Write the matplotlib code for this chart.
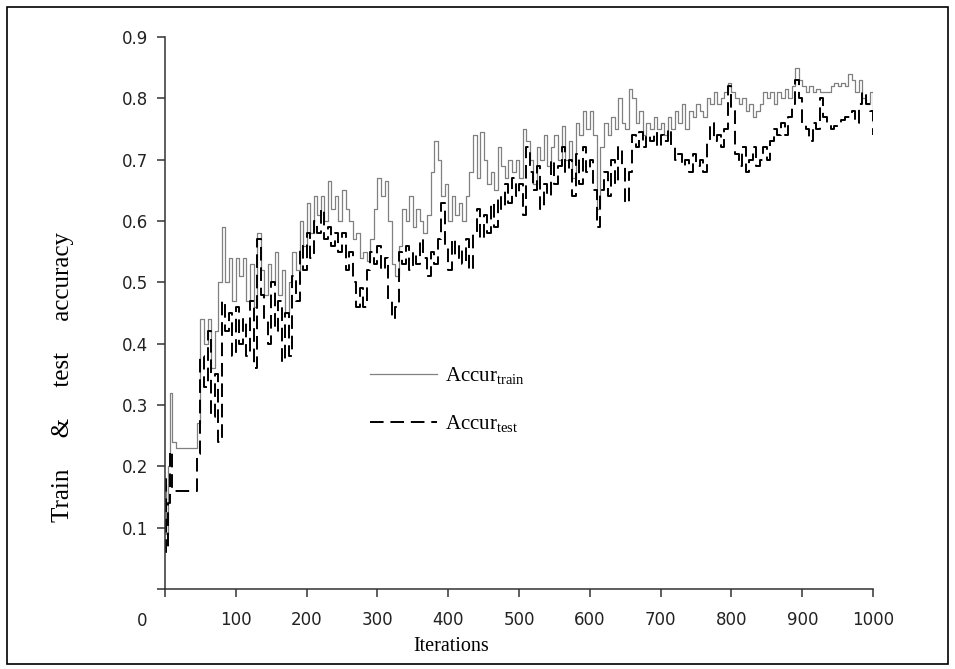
import matplotlib
matplotlib.use('Agg')
import matplotlib.pyplot as plt
from matplotlib.patches import Rectangle

plt.rcParams['font.family'] = 'Liberation Serif'
plt.rcParams['mathtext.fontset'] = 'custom'
plt.rcParams['mathtext.rm'] = 'Liberation Serif'

# Iteration index (a few extra points at the very start)
iterations = [0, 2, 4, 7, 10] + list(range(15, 1001, 5))

# Train accuracy
train_acc = [0.17, 0.09, 0.20, 0.32, 0.24,
             0.23, 0.23, 0.23, 0.23, 0.23, 0.23, 0.27, 0.44, 0.40, 0.44,
             0.36, 0.42, 0.50, 0.59, 0.50, 0.54, 0.47, 0.54, 0.51, 0.54,
             0.47, 0.53, 0.46, 0.58, 0.52, 0.48, 0.53, 0.50, 0.55, 0.48,
             0.52, 0.45, 0.50, 0.55, 0.52, 0.60, 0.56, 0.63, 0.58, 0.64,
             0.61, 0.64, 0.60, 0.665, 0.62, 0.64, 0.60, 0.65, 0.62, 0.60,
             0.57, 0.58, 0.54, 0.55, 0.535, 0.57, 0.62, 0.67, 0.64, 0.665,
             0.60, 0.53, 0.51, 0.56, 0.62, 0.60, 0.64, 0.59, 0.62, 0.60,
             0.58, 0.61, 0.68, 0.73, 0.70, 0.64, 0.66, 0.60, 0.64, 0.61,
             0.63, 0.60, 0.64, 0.68, 0.74, 0.67, 0.745, 0.70, 0.66, 0.68,
             0.65, 0.72, 0.69, 0.67, 0.70, 0.68, 0.70, 0.67, 0.75, 0.73,
             0.70, 0.66, 0.72, 0.70, 0.74, 0.69, 0.72, 0.74, 0.70, 0.755,
             0.70, 0.73, 0.67, 0.76, 0.74, 0.78, 0.75, 0.78, 0.74, 0.62,
             0.72, 0.76, 0.74, 0.77, 0.75, 0.80, 0.76, 0.75, 0.815, 0.80,
             0.76, 0.78, 0.74, 0.76, 0.75, 0.77, 0.75, 0.76, 0.74, 0.77,
             0.75, 0.78, 0.76, 0.79, 0.75, 0.78, 0.77, 0.79, 0.78, 0.77,
             0.80, 0.79, 0.81, 0.79, 0.80, 0.81, 0.825, 0.81, 0.80, 0.79,
             0.80, 0.78, 0.79, 0.77, 0.78, 0.79, 0.81, 0.80, 0.81, 0.79,
             0.81, 0.80, 0.815, 0.80, 0.82, 0.85, 0.83, 0.82, 0.81, 0.82,
             0.81, 0.815, 0.81, 0.81, 0.81, 0.82, 0.825, 0.82, 0.825, 0.82,
             0.84, 0.83, 0.81, 0.83, 0.80, 0.79, 0.81, 0.76]

# Test accuracy
test_acc = [0.18, 0.06, 0.14, 0.225, 0.16,
            0.16, 0.16, 0.16, 0.16, 0.16, 0.16, 0.22, 0.38, 0.33, 0.42,
            0.28, 0.35, 0.24, 0.47, 0.42, 0.45, 0.38, 0.46, 0.40, 0.44,
            0.38, 0.47, 0.36, 0.57, 0.48, 0.44, 0.40, 0.50, 0.42, 0.47,
            0.37, 0.45, 0.38, 0.51, 0.47, 0.56, 0.52, 0.58, 0.54, 0.60,
            0.58, 0.62, 0.57, 0.59, 0.56, 0.58, 0.55, 0.58, 0.52, 0.55,
            0.50, 0.46, 0.49, 0.46, 0.52, 0.55, 0.53, 0.56, 0.52, 0.54,
            0.47, 0.44, 0.46, 0.55, 0.53, 0.56, 0.52, 0.55, 0.53, 0.57,
            0.54, 0.51, 0.55, 0.53, 0.57, 0.63, 0.56, 0.52, 0.57, 0.54,
            0.56, 0.53, 0.57, 0.52, 0.58, 0.62, 0.57, 0.61, 0.58, 0.63,
            0.59, 0.64, 0.62, 0.66, 0.63, 0.67, 0.64, 0.66, 0.61, 0.72,
            0.68, 0.65, 0.69, 0.62, 0.66, 0.64, 0.70, 0.66, 0.69, 0.72,
            0.68, 0.70, 0.64, 0.71, 0.66, 0.72, 0.68, 0.70, 0.65, 0.59,
            0.65, 0.68, 0.64, 0.70, 0.66, 0.72, 0.69, 0.63, 0.68, 0.74,
            0.72, 0.745, 0.72, 0.74, 0.73, 0.745, 0.72, 0.74, 0.73, 0.75,
            0.72, 0.70, 0.71, 0.69, 0.70, 0.68, 0.71, 0.69, 0.70, 0.68,
            0.73, 0.76, 0.73, 0.74, 0.72, 0.75, 0.82, 0.78, 0.71, 0.69,
            0.72, 0.68, 0.70, 0.72, 0.69, 0.70, 0.72, 0.70, 0.73, 0.75,
            0.74, 0.76, 0.74, 0.77, 0.79, 0.83, 0.80, 0.76, 0.75, 0.73,
            0.76, 0.75, 0.80, 0.77, 0.76, 0.75, 0.755, 0.76, 0.765, 0.77,
            0.77, 0.78, 0.76, 0.79, 0.81, 0.79, 0.78, 0.74]

x_ticks = [0, 100, 200, 300, 400, 500, 600, 700, 800, 900, 1000]
y_ticks = [0, 0.1, 0.2, 0.3, 0.4, 0.5, 0.6, 0.7, 0.8, 0.9]

fig = plt.figure(figsize=(9.55, 6.69), dpi=100)
ax = fig.add_axes([0.1728, 0.1196, 0.7414, 0.8251])

ax.plot(iterations, train_acc, color='#808080', lw=0.9, drawstyle='steps-post',
        label='Accur$_{\\rm train}$')
ax.plot(iterations, test_acc, color='black', lw=1.4, ls=(0, (7, 3.5)),
        drawstyle='steps-post', label='Accur$_{\\rm test}$')

ax.set_xlim(0, 1000)
ax.set_ylim(0, 0.9)
ax.spines['top'].set_visible(False)
ax.spines['right'].set_visible(False)
for s in ['left', 'bottom']:
    ax.spines[s].set_color('#333333')
    ax.spines[s].set_linewidth(1.1)

ax.set_xticks(x_ticks)
ax.set_xticklabels([''] + [str(t) for t in x_ticks[1:]])
ax.set_yticks(y_ticks)
ax.set_yticklabels([''] + ['%.1f' % t for t in y_ticks[1:]])
ax.tick_params(axis='both', direction='out', length=6, width=1.1, color='#333333',
               labelsize=12, labelcolor='#222222')
ax.tick_params(axis='x', pad=10)
ax.tick_params(axis='y', pad=6)
for lbl in ax.get_xticklabels() + ax.get_yticklabels():
    lbl.set_family('DejaVu Sans')

# the lone "0" at the origin
ax.annotate('0', xy=(0, 0), xytext=(-16.5, -23), textcoords='offset points',
            ha='center', va='center', family='DejaVu Sans', fontsize=12, color='#222222')

ax.set_xlabel('Iterations', fontsize=14.5)
ax.xaxis.set_label_coords(0.404, -0.087)
ax.set_ylabel('Train     &     test     accuracy', fontsize=18)
ax.yaxis.set_label_coords(-0.128, 0.384)

ax.legend(loc='upper left', bbox_to_anchor=(0.29, 0.405), frameon=False, fontsize=15,
          handlelength=3.2, handletextpad=0.4, labelspacing=1.25,
          borderpad=0, borderaxespad=0)

# outer frame
fig.patches.append(Rectangle((7 / 955, 1 - 664 / 669), 941 / 955, 657 / 669,
                             transform=fig.transFigure, fill=False,
                             edgecolor='black', lw=1.2))

fig.savefig('out.png', dpi=100)
